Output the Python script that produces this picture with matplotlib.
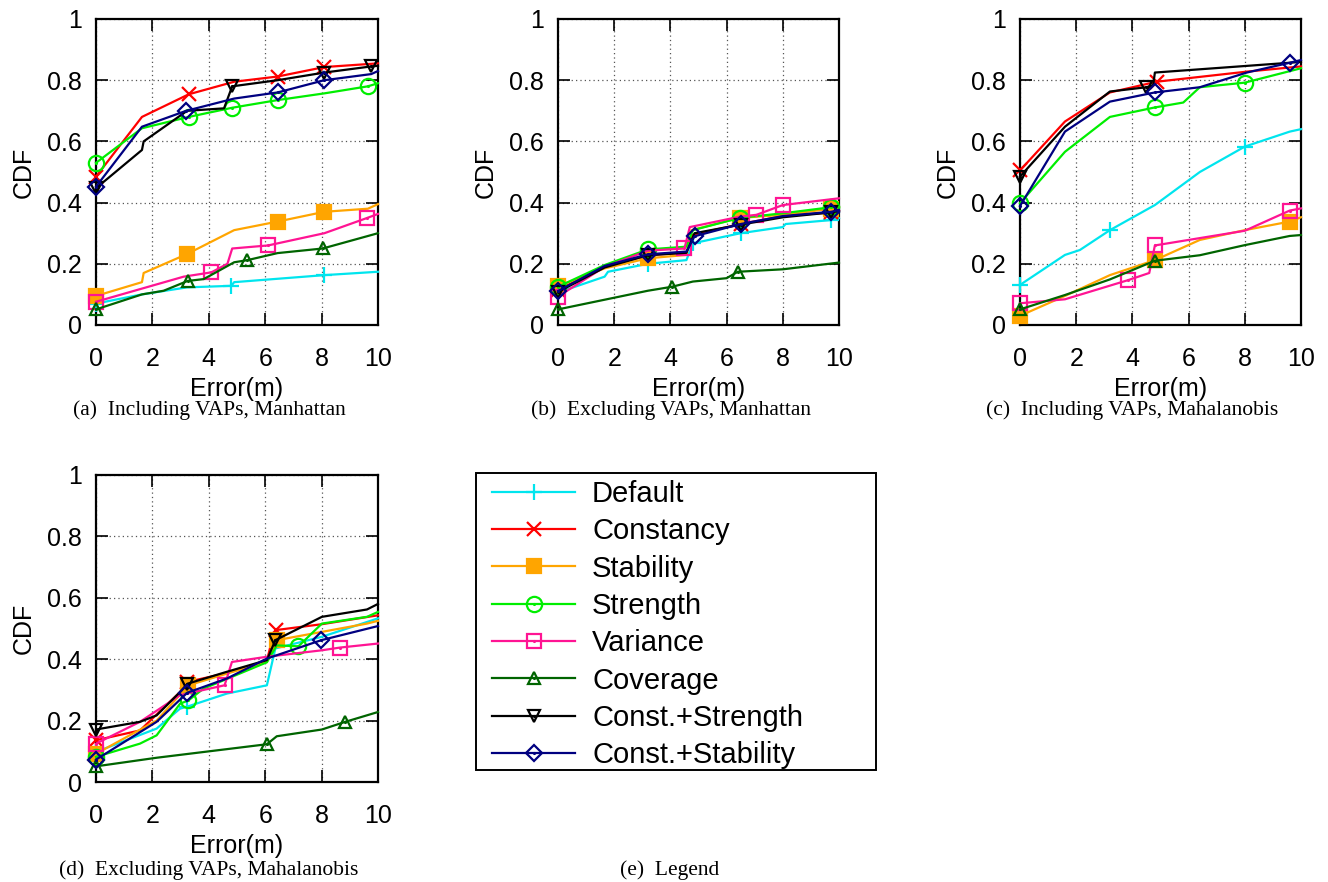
import matplotlib
matplotlib.use("Agg")
import matplotlib.pyplot as plt
from matplotlib.patches import Rectangle

plt.rcParams['font.family'] = ['Liberation Sans', 'DejaVu Sans']

names = ["Default", "Constancy", "Stability", "Strength", "Variance",
         "Coverage", "Const.+Strength", "Const.+Stability"]
captions = ["(a)  Including VAPs, Manhattan", "(b)  Excluding VAPs, Manhattan",
            "(c)  Including VAPs, Mahalanobis", "(d)  Excluding VAPs, Mahalanobis"]
xticks = [0, 2, 4, 6, 8, 10]
yticks = [0, 0.2, 0.4, 0.6, 0.8, 1]
ytick_labels = ["0", "0.2", "0.4", "0.6", "0.8", "1"]

# each series: (x, cdf, indices of the points that carry a marker)
panel_a = {
    "Default": ([0, 1.63, 3.23, 4.8, 4.9, 8.1, 10],
                [0.07, 0.10, 0.123, 0.128, 0.14, 0.163, 0.174], [0, 3, 5]),
    "Constancy": ([0, 1.63, 3.29, 4.9, 6.44, 8.1, 10],
                  [0.485, 0.68, 0.754, 0.795, 0.812, 0.843, 0.855], [0, 2, 4, 5]),
    "Stability": ([0, 1.63, 1.69, 3.23, 4.9, 6.44, 8.1, 9.64, 10],
                  [0.095, 0.14, 0.17, 0.232, 0.31, 0.338, 0.37, 0.38, 0.395], [0, 3, 5, 6]),
    "Strength": ([0, 1.63, 3.29, 4.83, 6.44, 8.1, 9.64, 10],
                 [0.53, 0.643, 0.68, 0.71, 0.735, 0.757, 0.78, 0.79], [0, 2, 3, 4, 6]),
    "Variance": ([0, 3.11, 4.09, 4.66, 4.83, 6.1, 8.1, 9.62, 10],
                 [0.076, 0.158, 0.172, 0.2, 0.25, 0.26, 0.30, 0.35, 0.363], [0, 2, 5, 7]),
    "Coverage": ([0, 1.63, 2.4, 3.25, 3.82, 4.9, 5.37, 6.44, 8.04, 10],
                 [0.051, 0.10, 0.112, 0.144, 0.15, 0.205, 0.212, 0.235, 0.25, 0.30], [0, 3, 6, 8]),
    "Const.+Strength": ([0, 1.63, 1.69, 3.23, 4.54, 4.83, 6.44, 8.1, 9.76, 10],
                        [0.447, 0.572, 0.60, 0.70, 0.708, 0.78, 0.80, 0.825, 0.845, 0.847],
                        [0, 5, 7, 8]),
    "Const.+Stability": ([0, 1.63, 3.2, 4.9, 6.44, 8.1, 9.76, 10],
                         [0.452, 0.648, 0.70, 0.74, 0.76, 0.80, 0.82, 0.83], [0, 2, 4, 5]),
}

panel_b = {
    "Default": ([0, 1.66, 1.78, 3.2, 4.57, 4.8, 6.5, 8.0, 8.1, 9.73, 10],
                [0.106, 0.158, 0.174, 0.20, 0.212, 0.267, 0.30, 0.32, 0.33, 0.343, 0.349],
                [3, 5, 6, 9]),
    "Constancy": ([0, 1.66, 3.2, 4.57, 4.8, 6.5, 8.0, 9.73, 10],
                  [0.115, 0.19, 0.228, 0.237, 0.295, 0.33, 0.356, 0.368, 0.375], [0, 2, 5, 7]),
    "Stability": ([0, 1.66, 3.2, 4.57, 4.75, 6.47, 8.0, 9.73, 10],
                  [0.127, 0.185, 0.218, 0.229, 0.31, 0.35, 0.36, 0.38, 0.387], [0, 2, 5, 7]),
    "Strength": ([0, 1.66, 3.2, 4.57, 4.8, 6.47, 8.0, 9.73, 10],
                 [0.125, 0.196, 0.247, 0.256, 0.31, 0.35, 0.365, 0.385, 0.385], [0, 2, 5, 7]),
    "Variance": ([0, 1.66, 3.2, 4.5, 4.69, 6.47, 7.06, 8.0, 10],
                 [0.093, 0.19, 0.243, 0.25, 0.32, 0.354, 0.36, 0.392, 0.414], [0, 3, 6, 7]),
    "Coverage": ([0, 3.2, 4.06, 4.8, 6.0, 6.4, 8.0, 10],
                 [0.051, 0.112, 0.125, 0.142, 0.153, 0.174, 0.182, 0.204], [0, 2, 5]),
    "Const.+Strength": ([0, 1.66, 3.2, 4.57, 4.86, 6.5, 8.0, 9.73, 10],
                        [0.108, 0.188, 0.228, 0.236, 0.30, 0.328, 0.352, 0.368, 0.372],
                        [0, 2, 5, 7]),
    "Const.+Stability": ([0, 1.66, 3.2, 4.57, 4.86, 6.5, 8.0, 9.73, 10],
                         [0.111, 0.193, 0.231, 0.24, 0.29, 0.33, 0.356, 0.37, 0.376],
                         [0, 2, 4, 5, 7]),
}

panel_c = {
    "Default": ([0, 1.6, 2.13, 3.2, 4.8, 6.4, 8.0, 9.6, 10],
                [0.131, 0.229, 0.245, 0.31, 0.392, 0.50, 0.583, 0.632, 0.64], [0, 3, 6]),
    "Constancy": ([0, 1.6, 3.2, 4.86, 8.07, 10],
                  [0.505, 0.665, 0.76, 0.795, 0.828, 0.845], [0, 3]),
    "Stability": ([0, 1.6, 3.2, 4.8, 6.4, 8.0, 9.6, 10],
                  [0.03, 0.095, 0.163, 0.212, 0.278, 0.31, 0.338, 0.352], [0, 3, 6]),
    "Strength": ([0, 1.6, 3.2, 4.8, 5.81, 6.4, 8.0, 10],
                 [0.398, 0.566, 0.68, 0.711, 0.727, 0.777, 0.792, 0.839], [0, 3, 6]),
    "Variance": ([0, 1.6, 3.86, 4.6, 4.8, 8.0, 9.6, 10],
                 [0.071, 0.084, 0.147, 0.17, 0.26, 0.308, 0.374, 0.381], [0, 2, 4, 6]),
    "Coverage": ([0, 1.6, 3.2, 4.8, 6.4, 8.0, 9.6, 10],
                 [0.051, 0.098, 0.149, 0.21, 0.228, 0.261, 0.291, 0.294], [0, 3]),
    "Const.+Strength": ([0, 1.6, 3.2, 4.5, 4.74, 4.8, 9.6, 10],
                        [0.485, 0.648, 0.763, 0.777, 0.784, 0.825, 0.857, 0.86], [0, 3]),
    "Const.+Stability": ([0, 1.6, 3.2, 4.8, 6.4, 8.07, 9.6, 10],
                         [0.389, 0.632, 0.73, 0.76, 0.777, 0.825, 0.857, 0.866], [0, 3, 6]),
}

panel_d = {
    "Default": ([0, 2.15, 2.98, 3.22, 4.64, 6.06, 6.36, 8.01, 10],
                [0.098, 0.174, 0.239, 0.245, 0.288, 0.315, 0.435, 0.473, 0.533], [0, 3]),
    "Constancy": ([0, 1.56, 2.98, 3.24, 4.64, 6.06, 6.18, 6.39, 8.01, 10],
                  [0.136, 0.168, 0.293, 0.326, 0.355, 0.395, 0.44, 0.495, 0.514, 0.543],
                  [0, 3, 7]),
    "Stability": ([0, 2.15, 3.28, 4.64, 6.06, 6.41, 8.01, 9.61, 10],
                  [0.092, 0.20, 0.315, 0.353, 0.391, 0.462, 0.489, 0.516, 0.525], [0, 2, 5]),
    "Strength": ([0, 1.56, 2.15, 2.98, 3.28, 3.81, 6.06, 6.41, 7.18, 8.01, 9.61, 10],
                 [0.082, 0.125, 0.152, 0.255, 0.266, 0.304, 0.39, 0.445, 0.442, 0.516, 0.538, 0.554],
                 [0, 4, 8]),
    "Variance": ([0, 1.56, 2.98, 4.56, 4.82, 6.06, 8.01, 8.66, 10],
                 [0.125, 0.196, 0.283, 0.315, 0.391, 0.408, 0.429, 0.438, 0.451], [0, 3, 7]),
    "Coverage": ([0, 2.15, 6.06, 6.41, 8.01, 8.84, 10],
                 [0.051, 0.079, 0.123, 0.149, 0.171, 0.196, 0.228], [0, 2, 5]),
    "Const.+Strength": ([0, 1.56, 2.15, 2.98, 3.24, 4.64, 6.06, 6.36, 8.01, 9.61, 10],
                        [0.171, 0.196, 0.217, 0.293, 0.32, 0.359, 0.397, 0.462, 0.538, 0.562, 0.58],
                        [0, 4, 7]),
    "Const.+Stability": ([0, 2.15, 3.24, 4.64, 6.06, 7.99, 10],
                         [0.073, 0.196, 0.291, 0.337, 0.402, 0.462, 0.508], [0, 2, 5]),
}

# color, marker, size, filled, center dot
styles = {
    "Default": ("#00e5ee", "+", 12, True, False),
    "Constancy": ("#ff0000", "x", 10, True, False),
    "Stability": ("#ffa500", "s", 10.5, True, False),
    "Strength": ("#00ee00", "o", 11, False, True),
    "Variance": ("#ff1493", "s", 10.5, False, True),
    "Coverage": ("#006400", "^", 9, False, True),
    "Const.+Strength": ("#000000", "v", 9, False, True),
    "Const.+Stability": ("#000080", "D", 8, False, True),
}

W, H = 1328, 882
fig = plt.figure(figsize=(W / 100, H / 100), dpi=100)

# axes boxes in figure fractions
boxes = [(96 / W, 1 - 325 / H, 282 / W, 306 / H),
         (558 / W, 1 - 325 / H, 281 / W, 306 / H),
         (1020 / W, 1 - 325 / H, 281 / W, 306 / H),
         (96 / W, 1 - 782 / H, 282 / W, 307 / H)]
caption_pos = [(209 / W, 1 - 410 / H), (671 / W, 1 - 410 / H),
               (1132 / W, 1 - 410 / H), (209 / W, 1 - 870 / H)]

handles = []
for k, (panel, box) in enumerate(zip([panel_a, panel_b, panel_c, panel_d], boxes)):
    ax = fig.add_axes(box)
    for name in names:
        x, y, marks = panel[name]
        color, mk, ms, filled, dot = styles[name]
        line, = ax.plot(x, y, color=color, lw=1.6, marker=mk, ms=ms, mew=1.6,
                        mfc=color if filled else "none", mec=color,
                        markevery=marks, clip_on=False, zorder=3)
        h = line
        if dot:
            d, = ax.plot(x, y, ls="none", marker=".", ms=2.5, color=color,
                         markevery=marks, clip_on=False, zorder=3)
            h = (line, d)
        if k == 0:
            handles.append(h)

    ax.set_xlim(0, 10)
    ax.set_ylim(0, 1)
    ax.set_xticks(xticks)
    ax.set_yticks(yticks)
    ax.set_yticklabels(ytick_labels)
    ax.tick_params(direction="in", length=8.5, width=1.2, labelsize=18,
                   top=True, right=True)
    ax.tick_params(axis="x", pad=16)
    ax.tick_params(axis="y", pad=10)
    ax.grid(True, color="#555555", lw=0.9, ls=(0, (1, 2.5)))
    for s in ax.spines.values():
        s.set_linewidth(1.6)
    ax.set_xlabel("Error(m)", fontsize=18)
    ax.set_ylabel("CDF", fontsize=18)
    ax.xaxis.set_label_coords(0.5, -0.17)
    ax.yaxis.set_label_coords(-0.215, 0.5)

    cx, cy = caption_pos[k]
    fig.text(cx, cy, captions[k], ha="center", va="center", fontsize=15.5,
             family=["Liberation Serif", "DejaVu Serif"])

# legend panel (e): frame drawn separately so its padding can match
fig.patches.append(Rectangle((476 / W, 1 - 770 / H), 400 / W, 297 / H,
                             transform=fig.transFigure, fill=False,
                             edgecolor="black", lw=1.4))
fig.legend(handles, names, loc="upper left",
           bbox_to_anchor=(492 / W, 1 - 480 / H), borderaxespad=0, borderpad=0,
           fontsize=21, handlelength=2.85, handletextpad=0.58,
           labelspacing=0.32, frameon=False)

fig.text(670 / W, 1 - 870 / H, "(e)  Legend", ha="center", va="center",
         fontsize=15.5, family=["Liberation Serif", "DejaVu Serif"])

fig.savefig("out.png", dpi=100)
